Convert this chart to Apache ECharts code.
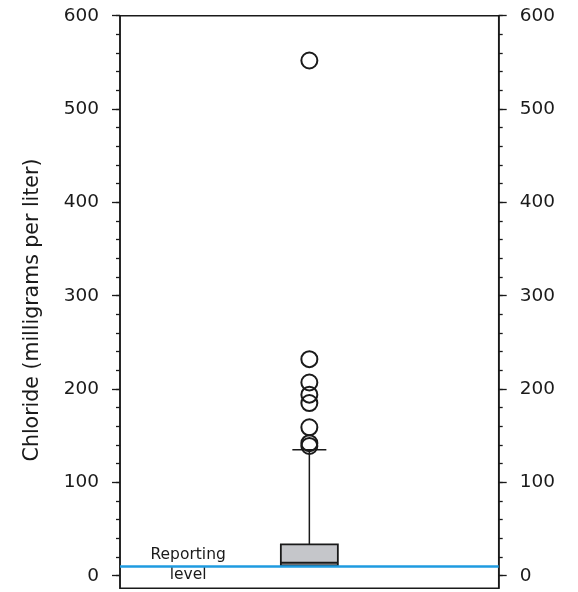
<!DOCTYPE html>
<html>
<head>
<meta charset="utf-8">
<script src="https://cdn.jsdelivr.net/npm/echarts@6/dist/echarts.min.js"></script>
<style>
html, body { margin: 0; background: #fff; }
#chart { width: 578px; height: 592px; }
</style>
</head>
<body>
<div id="chart"></div>
<script>
// chloride concentrations, mg/L
var yTicks = [0, 100, 200, 300, 400, 500, 600];
var yMinorTicks = [0, 20, 40, 60, 80, 100, 120, 140, 160, 180, 200, 220, 240, 260, 280, 300,
    320, 340, 360, 380, 400, 420, 440, 460, 480, 500, 520, 540, 560, 580, 600];
var boxStats = [11, 11, 14, 33.6, 135]; // low, q1, median, q3, high
var outliers = [552, 232, 207, 194, 185, 159, 142, 139];
var reportingLevel = 10;
var notes = [['Reporting', 22], ['level', 1]];

var font = 'DejaVu Sans';
var ink = '#1a1a1a';

var chart = echarts.init(document.getElementById('chart'));

function yAxisSide(side, major) {
    return {
        type: 'value',
        position: side,
        min: -13.5,
        max: 600,
        axisLine: { show: major, lineStyle: { color: ink, width: 1.5 } },
        axisTick: {
            show: true,
            inside: false,
            length: major ? 8 : 4,
            customValues: major ? yTicks : yMinorTicks,
            lineStyle: { color: ink, width: 1.3 }
        },
        axisLabel: {
            show: major,
            customValues: yTicks,
            margin: 21,
            color: ink,
            fontFamily: font,
            fontSize: 18.5
        },
        splitLine: { show: false }
    };
}

var leftAxis = yAxisSide('left', true);
leftAxis.name = 'Chloride (milligrams per liter)';
leftAxis.nameLocation = 'middle';
leftAxis.nameRotate = 90;
leftAxis.nameGap = 77;
leftAxis.nameTextStyle = { color: ink, fontFamily: font, fontSize: 20.5, padding: [0, 16, 0, 0] };

chart.setOption({
    animation: false,
    grid: {
        left: 120, right: 79.3, top: 15.7, bottom: 3.7,
        show: true, borderColor: ink, borderWidth: 1.5, backgroundColor: 'transparent'
    },
    xAxis: {
        type: 'value', min: 0, max: 1,
        axisLine: { show: false }, axisTick: { show: false },
        axisLabel: { show: false }, splitLine: { show: false }
    },
    yAxis: [
        leftAxis,
        yAxisSide('left', false),
        yAxisSide('right', true),
        yAxisSide('right', false)
    ],
    series: [
        {
            type: 'custom',
            silent: true,
            z: 2,
            data: [[0.5].concat(boxStats)],
            renderItem: function (params, api) {
                var x = api.value(0);
                var q1 = api.coord([x, api.value(2)]);
                var med = api.coord([x, api.value(3)]);
                var q3 = api.coord([x, api.value(4)]);
                var high = api.coord([x, api.value(5)]);
                var hw = 28.5, cw = 17;
                var st = { stroke: ink, lineWidth: 1.5 };
                return {
                    type: 'group',
                    children: [
                        { type: 'line', shape: { x1: high[0], y1: high[1], x2: q3[0], y2: q3[1] }, style: st },
                        { type: 'line', shape: { x1: high[0] - cw, y1: high[1], x2: high[0] + cw, y2: high[1] }, style: st },
                        { type: 'rect', shape: { x: q3[0] - hw, y: q3[1], width: hw * 2, height: q1[1] - q3[1] },
                          style: { fill: '#c5c6ca', stroke: ink, lineWidth: 1.8 } },
                        { type: 'line', shape: { x1: med[0] - hw, y1: med[1], x2: med[0] + hw, y2: med[1] },
                          style: { stroke: ink, lineWidth: 2 } }
                    ]
                };
            }
        },
        {
            type: 'scatter',
            silent: true,
            z: 3,
            symbol: 'circle',
            symbolSize: 16,
            itemStyle: { color: 'rgba(0,0,0,0)', borderColor: ink, borderWidth: 2, opacity: 1 },
            data: outliers.map(function (v) { return [0.5, v]; }),
            markLine: {
                silent: true,
                symbol: 'none',
                label: { show: false },
                lineStyle: { color: '#1f9be0', width: 2.5, type: 'solid', opacity: 1 },
                data: [{ yAxis: reportingLevel }],
                z: 5
            }
        },
        {
            type: 'scatter',
            silent: true,
            symbolSize: 0,
            z: 4,
            itemStyle: { opacity: 1 },
            data: notes.map(function (n) { return [0.18, n[1], n[0]]; }),
            label: {
                show: true,
                position: 'inside',
                color: ink,
                fontFamily: font,
                fontSize: 15.5,
                formatter: function (p) { return p.data[2]; }
            }
        }
    ]
});
</script>
</body>
</html>
